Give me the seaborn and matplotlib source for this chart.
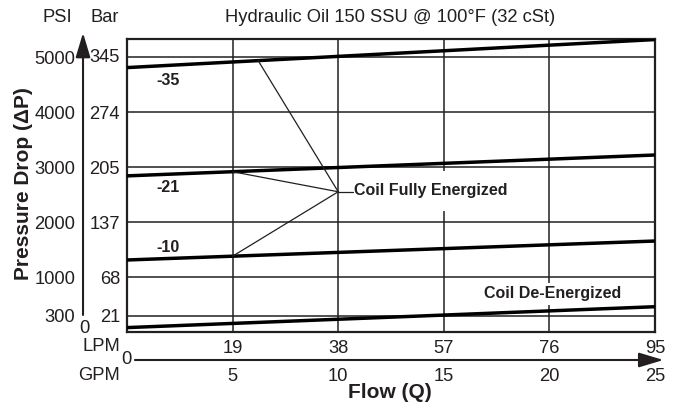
import numpy as np
import seaborn as sns
import matplotlib.pyplot as plt

# valeurs
flow_lpm = [0, 95]
dp_35 = [4810, 5320]
dp_21 = [2840, 3220]
dp_10 = [1310, 1655]
dp_off = [80, 460]

psi_ticks = [300, 1000, 2000, 3000, 4000, 5000]
bar_ticks = [21, 68, 137, 205, 274, 345]
lpm_ticks = [19, 38, 57, 76, 95]
gpm_ticks = [5, 10, 15, 20, 25]
curve_labels = ['-35', '-21', '-10']
label_pos = [(7.4, 4580), (7.4, 2620), (7.4, 1530)]
pointer_x = [23.6, 19, 19]
pointer_vertex = (38, 2551)

sns.set_style('white')
plt.rcParams['font.family'] = ['Liberation Sans', 'DejaVu Sans']
ink = '#231f20'

fig = plt.figure(figsize=(6.78, 4.04), dpi=100)
W, H = 678, 404
ax = fig.add_axes([127 / W, (H - 332) / H, (655 - 127) / W, (332 - 39) / H])
ax.set_xlim(0, 95)
ax.set_ylim(0, 5330)

# grille
ax.set_xticks(lpm_ticks)
ax.set_yticks(psi_ticks)
ax.grid(True, color=ink, lw=1.1)
for s in ax.spines.values():
    s.set_visible(True)
    s.set_color(ink)
    s.set_linewidth(1.6)
ax.tick_params(axis='y', length=0, pad=37.4, labelsize=13.2, labelcolor=ink)
ax.tick_params(axis='x', length=0, pad=5.5, labelsize=13.2, labelcolor=ink)

# courbes
for y in [dp_35, dp_21, dp_10, dp_off]:
    sns.lineplot(x=flow_lpm, y=y, ax=ax, color='black', lw=2.5, zorder=3)

for t, (x, y) in zip(curve_labels, label_pos):
    ax.text(x, y, t, fontsize=11.5, weight='bold', color=ink, ha='center', va='center', zorder=4)

# annotation "Coil Fully Energized"
vx, vy = pointer_vertex
for px, curve in zip(pointer_x, [dp_35, dp_21, dp_10]):
    py = np.interp(px, flow_lpm, curve)
    ax.plot([vx, px], [vy, py], color=ink, lw=0.9, zorder=6)
ax.plot([vx, vx + 2.6], [vy, vy], color=ink, lw=0.9, zorder=6)
ax.text(vx + 2.8, vy + 20, 'Coil Fully Energized', fontsize=11.5, weight='bold', color=ink,
        ha='left', va='center', zorder=5,
        bbox=dict(fc='white', ec='none', pad=9))
ax.text(76.5, 700, 'Coil De-Energized', fontsize=11.5, weight='bold', color=ink,
        ha='center', va='center', zorder=5,
        bbox=dict(fc='white', ec='none', pad=2.5))

# axe secondaire bar
sec = ax.secondary_yaxis('left', functions=(lambda p: p / 14.6, lambda b: b * 14.6))
sec.set_yticks(bar_ticks)
sec.tick_params(length=0, pad=5, labelsize=13.2, labelcolor=ink)
sec.spines['left'].set_visible(False)

# axe secondaire GPM
gy = -(360 - 332) / 293
secx = ax.secondary_xaxis(gy, functions=(lambda l: l / 3.8, lambda g: g * 3.8))
secx.set_xticks(gpm_ticks)
secx.tick_params(length=0, pad=6, labelsize=13.2, labelcolor=ink)
secx.spines['bottom'].set_visible(False)

# fleches
ax.annotate('', xy=(1.016, gy), xytext=(0.015, gy), xycoords='axes fraction',
            arrowprops=dict(arrowstyle='-|>,head_length=1.0,head_width=0.3', lw=1.5,
                            color=ink, mutation_scale=15, shrinkA=0, shrinkB=0))
ax.annotate('', xy=(-0.0833, 1.021), xytext=(-0.0833, 0.058), xycoords='axes fraction',
            arrowprops=dict(arrowstyle='-|>,head_length=1.0,head_width=0.3', lw=1.5,
                            color=ink, mutation_scale=15, shrinkA=0, shrinkB=0))
ax.text(-0.0814, 0.012, '0', transform=ax.transAxes, fontsize=13.2, color=ink, ha='center', va='center')
ax.text(-0.001, gy, '0', transform=ax.transAxes, fontsize=13.2, color=ink, ha='center', va='center')
ax.text(-0.0133, -0.05, 'LPM', transform=ax.transAxes, fontsize=13.2, color=ink, ha='right', va='center')
ax.text(-0.0133, -0.150, 'GPM', transform=ax.transAxes, fontsize=13.2, color=ink, ha='right', va='center')

# textes
fig.text(390 / W, 1 - 17 / H, 'Hydraulic Oil 150 SSU @ 100°F (32 cSt)', fontsize=13.2, color=ink,
         ha='center', va='center')
fig.text(57 / W, 1 - 17 / H, 'PSI', fontsize=13.2, color=ink, ha='center', va='center')
fig.text(105 / W, 1 - 17 / H, 'Bar', fontsize=13.2, color=ink, ha='center', va='center')
fig.text(24 / W, 1 - 184 / H, 'Pressure Drop (ΔP)', rotation=90, fontsize=15, weight='bold',
         color=ink, ha='center', va='center')
fig.text(390 / W, 1 - 392 / H, 'Flow (Q)', fontsize=15, weight='bold', color=ink,
         ha='center', va='center')

fig.savefig('out.png', dpi=100)
